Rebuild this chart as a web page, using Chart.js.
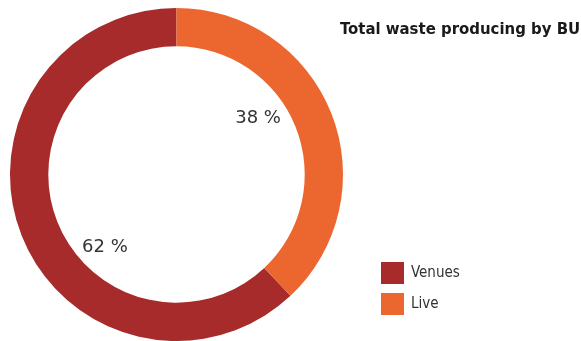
<!DOCTYPE html>
<html lang="en">
<head>
    <meta charset="UTF-8">
    <title>Total waste producing by BU</title>
    <style>
        body { margin: 0; padding: 0; background: #fff; }
        .wrap { width: 581px; height: 341px; position: relative; }
    </style>
</head>
<body>
<div class="wrap"><canvas id="wasteChart" width="581" height="341"></canvas></div>

<script src="https://cdn.jsdelivr.net/npm/chart.js"></script>
<script>
    const categories = ['Venues', 'Live'];
    const shares = [62, 38];
    const colors = ['#a72b2b', '#ec6730'];
    const chartTitle = 'Total waste producing by BU';

    // where each percent label sits, as a fraction of the outer radius from the centre
    const labelOffsets = [[-0.43, 0.44], [0.49, -0.34]];

    const total = shares.reduce((a, b) => a + b, 0);

    const overlay = {
        id: 'overlay',
        afterDraw(chart) {
            const ctx = chart.ctx;
            const arc = chart.getDatasetMeta(0).data[0];
            const cx = arc.x, cy = arc.y, r = arc.outerRadius;

            ctx.save();
            ctx.textBaseline = 'middle';

            // percent labels
            ctx.fillStyle = '#333';
            ctx.font = '18px "DejaVu Sans"';
            ctx.textAlign = 'center';
            shares.forEach((v, i) => {
                const o = labelOffsets[i];
                ctx.fillText(v + ' %', cx + o[0] * r, cy + o[1] * r);
            });

            // title
            ctx.textAlign = 'left';
            ctx.fillStyle = '#1a1a1a';
            ctx.font = 'bold 16.6px "DejaVu Sans Condensed"';
            ctx.fillText(chartTitle, 340, 30);

            // legend
            ctx.font = '15px "DejaVu Sans Condensed"';
            categories.forEach((c, i) => {
                const y = 262 + i * 31;
                ctx.fillStyle = colors[i];
                ctx.fillRect(381, y, 23, 22);
                ctx.fillStyle = '#333';
                ctx.fillText(c, 411, y + 11);
            });
            ctx.restore();
        }
    };

    new Chart(document.getElementById('wasteChart'), {
        type: 'doughnut',
        data: {
            labels: categories,
            datasets: [{
                data: shares,
                backgroundColor: colors,
                borderWidth: 0
            }]
        },
        options: {
            responsive: false,
            animation: false,
            cutout: '77%',
            // Venues ends at the top, Live runs clockwise from the top
            rotation: -360 * shares[0] / total,
            layout: { padding: { left: 10, right: 238, top: 8, bottom: 0 } },
            plugins: {
                legend: { display: false },
                tooltip: { enabled: false }
            }
        },
        plugins: [overlay]
    });
</script>
</body>
</html>
